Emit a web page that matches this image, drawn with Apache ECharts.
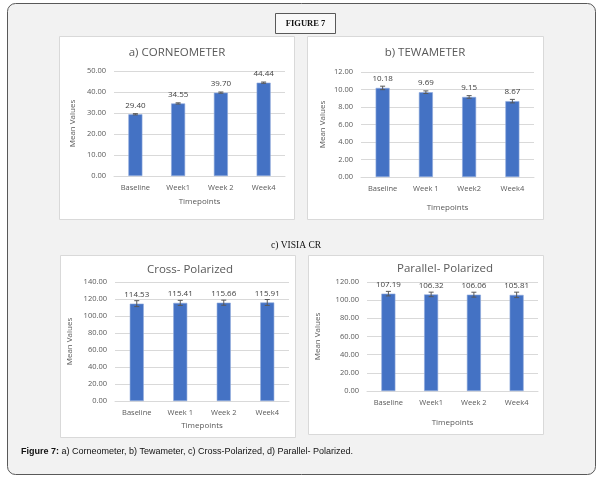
<!DOCTYPE html>
<html><head><meta charset="utf-8">
<script src="https://cdn.jsdelivr.net/npm/echarts@6/dist/echarts.min.js"></script>
<style>html,body{margin:0;padding:0;background:#fff}#c{width:603px;height:481px}</style>
</head><body><div id="c"></div>
<script>
// ---- data ----
const categoriesA = ['Baseline', 'Week1', 'Week 2', 'Week4'];
const categoriesB = ['Baseline', 'Week 1', 'Week2', 'Week4'];
const categoriesC = ['Baseline', 'Week 1', 'Week 2', 'Week4'];
const categoriesD = ['Baseline', 'Week1', 'Week 2', 'Week4'];
const corneometer = [29.40, 34.55, 39.70, 44.44];
const corneometerErr = [0.3, 0.3, 0.3, 0.3];
const tewameter = [10.18, 9.69, 9.15, 8.67];
const tewameterErr = [0.2, 0.15, 0.15, 0.2];
const crossPolarized = [114.53, 115.41, 115.66, 115.91];
const crossPolarizedErr = [3.5, 3, 3, 3.5];
const parallelPolarized = [107.19, 106.32, 106.06, 105.81];
const parallelPolarizedErr = [2.5, 2.5, 2.7, 3];
const titles = ['a) CORNEOMETER', 'b) TEWAMETER', 'Cross- Polarized', 'Parallel- Polarized'];
const axisMax = [50, 12, 140, 120];
const axisInterval = [10, 2, 20, 20];

// ---- layout / style ----
const FONT = 'Open Sans';
const panels = [
  {cats: categoriesA, vals: corneometer, errs: corneometerErr, grid: {left: 114, top: 71, width: 171, height: 105}, title: [177, 53], xGap: 22, yGap: 37},
  {cats: categoriesB, vals: tewameter, errs: tewameterErr, grid: {left: 361, top: 72, width: 173, height: 105}, title: [425, 53], xGap: 27, yGap: 34},
  {cats: categoriesC, vals: crossPolarized, errs: crossPolarizedErr, grid: {left: 115, top: 282, width: 174, height: 119}, title: [190, 270], xGap: 21, yGap: 41},
  {cats: categoriesD, vals: parallelPolarized, errs: parallelPolarizedErr, grid: {left: 367, top: 282, width: 171, height: 109}, title: [445, 269], xGap: 28, yGap: 45}
];

const grid = [], xAxis = [], yAxis = [], series = [], title = [];
panels.forEach((p, i) => {
  grid.push(Object.assign({containLabel: false}, p.grid));
  title.push({
    text: titles[i], left: p.title[0], top: p.title[1] - 8, textAlign: 'center', padding: 0,
    textStyle: {fontFamily: FONT, fontSize: 11.5, fontWeight: 'normal', color: '#595959', lineHeight: 16}
  });
  xAxis.push({
    type: 'category', gridIndex: i, data: p.cats,
    name: 'Timepoints', nameLocation: 'middle', nameGap: p.xGap,
    nameTextStyle: {fontFamily: FONT, fontSize: 8, color: '#595959'},
    axisLine: {lineStyle: {color: '#d9d9d9'}}, axisTick: {show: false},
    axisLabel: {fontFamily: FONT, fontSize: 7.5, color: '#595959', margin: 8}
  });
  yAxis.push({
    type: 'value', gridIndex: i, min: 0, max: axisMax[i], interval: axisInterval[i],
    name: 'Mean Values', nameLocation: 'middle', nameGap: p.yGap, nameRotate: 90,
    nameTextStyle: {fontFamily: FONT, fontSize: 8, color: '#595959'},
    axisLine: {show: false}, axisTick: {show: false},
    splitLine: {lineStyle: {color: '#d9d9d9', width: 1}},
    axisLabel: {fontFamily: FONT, fontSize: 7.5, color: '#595959', margin: 8, formatter: v => v.toFixed(2)}
  });
  series.push({
    type: 'bar', xAxisIndex: i, yAxisIndex: i, data: p.vals, barWidth: 14,
    itemStyle: {color: '#4472c4', borderColor: '#8eaadb', borderWidth: 0.6},
    label: {show: true, position: 'top', distance: 5, fontFamily: FONT, fontSize: 8, color: '#404040',
            formatter: d => d.value.toFixed(2)}
  });
  series.push({
    type: 'custom', xAxisIndex: i, yAxisIndex: i, z: 5,
    data: p.vals.map((v, k) => [k, v, p.errs[k]]),
    encode: {x: 0, y: 1},
    renderItem: (params, api) => {
      const k = api.value(0), v = api.value(1), e = api.value(2);
      const hi = api.coord([k, v + e]), lo = api.coord([k, v - e]);
      const st = {stroke: '#595959', lineWidth: 1};
      return {type: 'group', children: [
        {type: 'line', shape: {x1: hi[0], y1: hi[1], x2: lo[0], y2: lo[1]}, style: st},
        {type: 'line', shape: {x1: hi[0] - 2.5, y1: hi[1], x2: hi[0] + 2.5, y2: hi[1]}, style: st},
        {type: 'line', shape: {x1: lo[0] - 2.5, y1: lo[1], x2: lo[0] + 2.5, y2: lo[1]}, style: st}
      ]};
    }
  });
});

const graphic = [
  {type: 'rect', z: -20, shape: {x: 7.5, y: 3.5, width: 588, height: 471, r: 8},
   style: {fill: '#f2f2f2', stroke: '#595959', lineWidth: 1}},
  {type: 'rect', z: -10, shape: {x: 59.5, y: 36.5, width: 235, height: 183}, style: {fill: '#fff', stroke: '#d9d9d9'}},
  {type: 'rect', z: -10, shape: {x: 307.5, y: 36.5, width: 236, height: 183}, style: {fill: '#fff', stroke: '#d9d9d9'}},
  {type: 'rect', z: -10, shape: {x: 60.5, y: 255.5, width: 235, height: 182}, style: {fill: '#fff', stroke: '#d9d9d9'}},
  {type: 'rect', z: -10, shape: {x: 308.5, y: 255.5, width: 235, height: 179}, style: {fill: '#fff', stroke: '#d9d9d9'}},
  {type: 'rect', z: 50, shape: {x: 275.5, y: 13.5, width: 60, height: 20}, style: {fill: '#f9f9f9', stroke: '#595959', lineWidth: 1}},
  {type: 'text', z: 51, x: 305.5, y: 24, style: {text: 'FIGURE 7', fontFamily: 'Liberation Serif', fontWeight: 'bold', fontSize: 8.5, fill: '#111', align: 'center', verticalAlign: 'middle'}},
  {type: 'text', z: 51, x: 296, y: 245, style: {text: 'c) VISIA CR', fontFamily: 'Liberation Serif', fontSize: 9.5, fill: '#111', align: 'center', verticalAlign: 'middle'}},
  {type: 'text', z: 51, x: 21, y: 452, style: {
    text: '{b|Figure 7:} a) Corneometer, b) Tewameter, c) Cross-Polarized, d) Parallel- Polarized.',
    fontFamily: 'Liberation Sans', fontSize: 9, fill: '#111', verticalAlign: 'middle',
    rich: {b: {fontFamily: 'Liberation Sans', fontWeight: 'bold', fontSize: 9, fill: '#111'}}
  }}
];

const chart = echarts.init(document.getElementById('c'), null, {renderer: 'canvas'});
chart.setOption({animation: false, backgroundColor: '#fff', title, grid, xAxis, yAxis, series, graphic});
</script></body></html>
